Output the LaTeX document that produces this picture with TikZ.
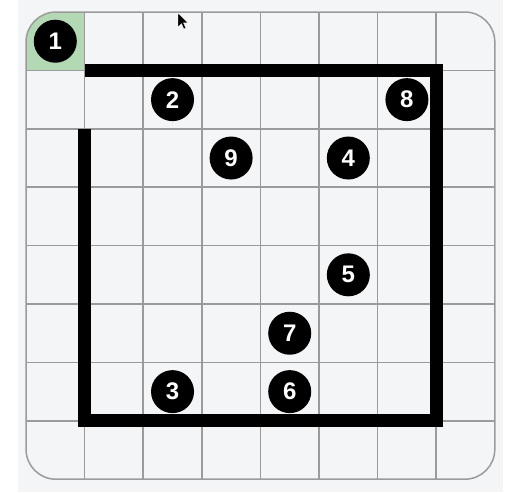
\documentclass[tikz,border=0pt]{standalone}
\usepackage{fontspec}
\setsansfont{Liberation Sans}
\definecolor{panelbg}{RGB}{244,245,247}
\definecolor{cellgreen}{RGB}{178,216,180}
\definecolor{gridgray}{RGB}{155,155,155}
\tikzset{
  ball/.style={circle, fill=black, text=white, minimum size=43pt, inner sep=0pt,
    font={\fontsize{24pt}{24pt}\sffamily\bfseries\selectfont}},
  wall/.style={line width=13pt, line cap=butt, line join=miter},
  gridline/.style={gridgray, line width=1.5pt}
}
\begin{document}
\begin{tikzpicture}[x=58.6pt, y=-58.4pt]
        % Frame
        \useasboundingbox (-0.444,-0.206) rectangle (8.481,8.219);
        \fill[white] (-0.444,-0.206) rectangle (8.481,8.219);
        \fill[panelbg] (-0.137,-0.206) rectangle (8.140,8.219);

        % Board
        \begin{scope}
            \clip[rounded corners=30pt] (0,0) rectangle (8,8);
            \fill[cellgreen] (0,0) rectangle (1,1);
            \foreach \i in {1,...,7} {
                \draw[gridline] (\i,0) -- (\i,8);
                \draw[gridline] (0,\i) -- (8,\i);
            }
        \end{scope}
        \draw[gridline, rounded corners=30pt] (0,0) rectangle (8,8);

        % Wall
        \draw[wall] (1,2) -- (1,7) -- (7,7) -- (7,1) -- (1,1);

        % Stones
        \foreach \n/\c/\r in {1/0/0, 2/2/1, 8/6/1, 9/3/2, 4/5/2, 5/5/4, 7/4/5, 3/2/6, 6/4/6} {
            \node[ball] (n\n) at (\c+0.5,\r+0.5) {\n};
        }

        % Cursor
        \begin{scope}[shift={(2.594,0.017)}, x=1pt, y=-1pt]
            \fill[black, draw=white, line width=0.4pt] (0,0) -- (0,14) -- (3.4,10.6) -- (5.8,16) -- (7.8,15.1) -- (5.5,9.8) -- (10,9.8) -- cycle;
        \end{scope}
    \end{tikzpicture}
\end{document}
